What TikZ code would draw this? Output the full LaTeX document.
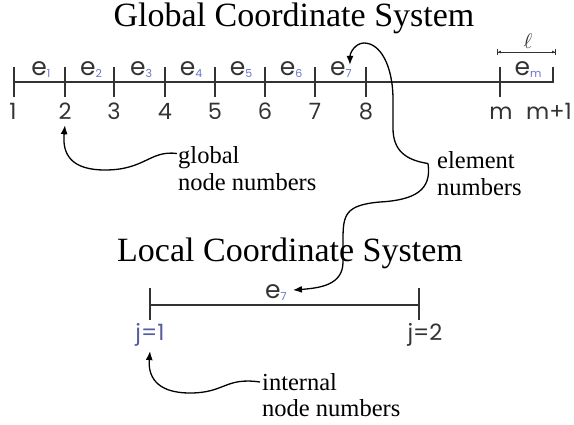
\documentclass[tikz,border=0pt]{standalone}
\usepackage{fontspec}
\setmainfont{Liberation Serif}
\newfontfamily\gothic{Poppins}
\usetikzlibrary{arrows.meta}
\definecolor{linegray}{HTML}{333333}
\definecolor{subblue}{HTML}{6A74C8}
\newcommand\esub[1]{\raisebox{-2pt}{\fontsize{11}{11}\selectfont\color{subblue}#1}}
\begin{document}
\begin{tikzpicture}[x=1pt,y=-1pt,
  axis/.style={draw=linegray,line width=1.6pt},
  num/.style={font=\gothic\fontsize{22.5}{22.5}\selectfont, text=linegray, inner sep=0pt, anchor=base},
  elab/.style={font=\gothic\fontsize{25}{25}\selectfont, text=linegray, inner sep=0pt, anchor=base},
  titletext/.style={font=\fontsize{34}{34}\selectfont, inner sep=0pt},
  note/.style={font=\fontsize{24.5}{26.5}\selectfont, align=left, inner sep=0pt, anchor=west},
  pointer/.style={draw=black, line width=1.3pt, -{Latex[length=9pt,width=7pt]}}]
\useasboundingbox (0,0) rectangle (574,424);

% Global system
\node[titletext] (gtitle) at (294,18) {Global Coordinate System};
\draw[axis] (14,82) -- (553,82);
\foreach \x in {14,65,114,165,215,265,315,366,500}
  \draw[axis] (\x,67) -- (\x,97);
\draw[axis] (553,67) -- (553,83);

\node[elab] (e1) at (41,75) {e\esub{1}};
\node[elab] (e2) at (91,75) {e\esub{2}};
\node[elab] (e3) at (141,75) {e\esub{3}};
\node[elab] (e4) at (191,75) {e\esub{4}};
\node[elab] (e5) at (241,75) {e\esub{5}};
\node[elab] (e6) at (291,75) {e\esub{6}};
\node[elab] (e7) at (341,75) {e\esub{7}};
\node[elab] (em) at (528,75) {e\esub{m}};

\node[num] (n1) at (13,119) {1};
\node[num] (n2) at (65,119) {2};
\node[num] (n3) at (114,119) {3};
\node[num] (n4) at (165,119) {4};
\node[num] (n5) at (215,119) {5};
\node[num] (n6) at (265,119) {6};
\node[num] (n7) at (315,119) {7};
\node[num] (n8) at (366,119) {8};
\node[num] (nm) at (501,119) {m};
\node[num] (nm1) at (549,119) {m+1};

\draw[linegray, line width=0.9pt, {Bar[width=6pt]Latex[length=3pt,width=3pt]}-{Latex[length=3pt,width=3pt]Bar[width=6pt]}] (497,52) -- (556,52);
\node[inner sep=0pt, text=linegray, anchor=base] (ell) at (528,48) {\scalebox{2.1}{$\ell$}};

% labels
\node[note] (glob) at (178,168.5) {global\\node numbers};
\node[note] (elnum) at (437,173.5) {element\\numbers};

\draw[pointer] ([xshift=-1pt,yshift=15pt]glob.west) .. controls (150,150) and (145,170) .. (105,170)
  .. controls (72,170) and (62,155) .. ([yshift=-6pt]n2.south);

\coordinate (elk) at ([xshift=-9pt,yshift=10pt]elnum.west);
\draw[pointer] (elk) .. controls (405,160) and (393,150) .. (393,128) -- (393,100)
  .. controls (393,65) and (380,43) .. (364,43) .. controls (356,43) and (350,52) .. ([xshift=-2pt,yshift=-4pt]e7.north east);

% Local system
\node[titletext] (ltitle) at (290,253) {Local Coordinate System};
\draw[axis] (150,305) -- (419,305);
\draw[axis] (150,288) -- (150,320);
\draw[axis] (419,288) -- (419,320);
\node[elab] (le7) at (276,298) {e\esub{7}};
\node[num, text=subblue!80!black] (j1) at (150,340) {j=1};
\node[num] (j2) at (425,340) {j=2};

\draw[pointer] (elk) .. controls (432,190) and (415,200) .. (380,202)
  .. controls (345,205) and (343,215) .. (343,240) -- (343,262)
  .. controls (343,285) and (320,288) .. ([xshift=6pt,yshift=2pt]le7.east);

\node[note] (intl) at (262,395) {internal\\node numbers};
\draw[pointer] ([xshift=-2pt,yshift=13pt]intl.west) .. controls (225,377) and (225,393) .. (190,393)
  .. controls (155,393) and (148,375) .. ([yshift=-5pt]j1.south);
\end{tikzpicture}
\end{document}
